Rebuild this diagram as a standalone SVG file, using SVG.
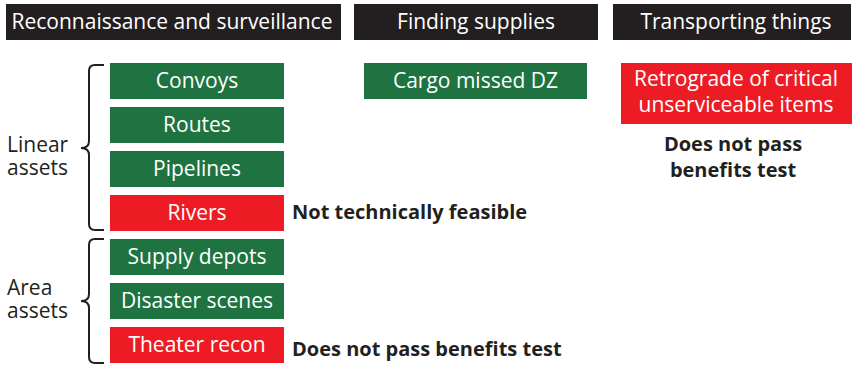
<svg xmlns="http://www.w3.org/2000/svg" width="856" height="365" viewBox="0 0 856 365">
<style>
text{font-family:"Open Sans","Noto Sans","Liberation Sans",sans-serif;}
.hdr{fill:#231f20;}
.ht{fill:#fff;font-size:21px;text-anchor:middle;}
.g{fill:#1e7340;}
.r{fill:#ed1c24;}
.bt{fill:#fff;font-size:21px;text-anchor:middle;}
.note{fill:#231f20;font-size:20px;font-weight:bold;}
.lab{fill:#231f20;font-size:21px;}
.brace{fill:none;stroke:#231f20;stroke-width:2;}
</style>
<rect width="856" height="365" fill="#fff"/>
<g id="header-recon"><rect class="hdr" x="6" y="4" width="335" height="36"/><text class="ht" x="172" y="29">Reconnaissance and surveillance</text></g>
<g id="header-finding"><rect class="hdr" x="354" y="4" width="244" height="36"/><text class="ht" x="476" y="29">Finding supplies</text></g>
<g id="header-transport"><rect class="hdr" x="613" y="4" width="238" height="36"/><text class="ht" x="736" y="29">Transporting things</text></g>

<g id="label-linear"><text class="lab" x="7" y="152">Linear<tspan x="7" y="175">assets</tspan></text></g>
<g id="label-area"><text class="lab" x="7" y="295">Area<tspan x="7" y="318">assets</tspan></text></g>

<g id="connectors">
<path class="brace" d="M104,65 H95 Q89,65 89,71 V141 Q89,148 81,148 Q89,148 89,155 V224 Q89,230 95,230 H104"/>
<path class="brace" d="M104,239 H95 Q89,239 89,245 V294 Q89,301 81,301 Q89,301 89,308 V357 Q89,363 95,363 H104"/>
</g>

<g id="convoys"><rect class="g" x="110" y="63" width="174" height="36"/><text class="bt" x="197" y="88">Convoys</text></g>
<g id="routes"><rect class="g" x="110" y="107" width="174" height="36"/><text class="bt" x="197" y="132">Routes</text></g>
<g id="pipelines"><rect class="g" x="110" y="151" width="174" height="36"/><text class="bt" x="197" y="176">Pipelines</text></g>
<g id="rivers"><rect class="r" x="110" y="195" width="174" height="36"/><text class="bt" x="197" y="220">Rivers</text></g>
<g id="supply-depots"><rect class="g" x="110" y="239" width="174" height="36"/><text class="bt" x="197" y="264">Supply depots</text></g>
<g id="disaster-scenes"><rect class="g" x="110" y="283" width="174" height="36"/><text class="bt" x="197" y="308">Disaster scenes</text></g>
<g id="theater-recon"><rect class="r" x="110" y="327" width="174" height="36"/><text class="bt" x="197" y="352">Theater recon</text></g>

<g id="note-rivers"><text class="note" x="292" y="219">Not technically feasible</text></g>
<g id="note-theater"><text class="note" x="292" y="356">Does not pass benefits test</text></g>

<g id="cargo"><rect class="g" x="364" y="63" width="223" height="36"/><text class="bt" x="475.5" y="88">Cargo missed DZ</text></g>
<g id="retrograde"><rect class="r" x="621" y="63" width="231" height="61"/><text class="bt" x="736" y="86">Retrograde of critical</text><text class="bt" x="736" y="112">unserviceable items</text></g>
<g id="note-retrograde"><text class="note" x="733" y="151" text-anchor="middle">Does not pass</text><text class="note" x="733" y="177" text-anchor="middle">benefits test</text></g>
</svg>
